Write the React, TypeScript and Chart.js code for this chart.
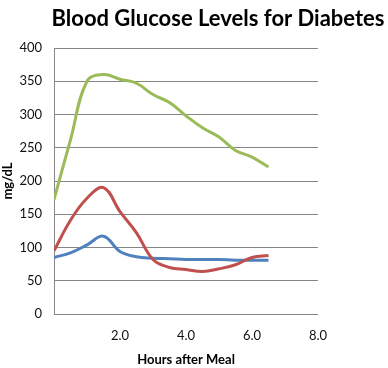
import React, { useEffect, useRef } from "react";
import { Chart, registerables } from "chart.js";

Chart.register(...registerables);

const chartTitle = "Blood Glucose Levels for Diabetes";
const xTitle = "Hours after Meal";
const yTitle = "mg/dL";

const hours = [0, 0.5, 1, 1.5, 2, 2.5, 3, 3.5, 4, 4.5, 5, 5.5, 6, 6.5];
const greenValues = [172, 262, 350, 360, 353, 347, 330, 318, 298, 280, 266, 246, 236, 221];
const redValues = [95, 141, 174, 190, 154, 122, 82, 70, 67, 64, 68, 74, 85, 88];
const blueValues = [85, 92, 104, 117, 94, 86, 84, 83, 82, 82, 82, 81, 81, 81];

const xTicks = [0, 2, 4, 6, 8];
const yMin = 0;
const yMax = 400;
const yStep = 50;

const toPoints = (vals: number[]) => hours.map((h, i) => ({ x: h, y: vals[i] }));

export default function App() {
  const ref = useRef<HTMLCanvasElement | null>(null);

  useEffect(() => {
    if (!ref.current) return;
    const titlePlugin = {
      id: "customTitle",
      beforeDraw(chart: any) {
        const ctx = chart.ctx;
        ctx.save();
        ctx.fillStyle = "#ffffff";
        ctx.fillRect(0, 0, chart.width, chart.height);
        ctx.restore();
      },
      afterDraw(chart: any) {
        const ctx = chart.ctx;
        ctx.save();
        ctx.font = "bold 22px Lato";
        ctx.fillStyle = "#000000";
        ctx.textAlign = "center";
        ctx.textBaseline = "alphabetic";
        ctx.fillText(chartTitle, 218, 26);
        ctx.restore();
      },
    };
    const chart = new Chart(ref.current, {
      type: "line",
      data: {
        datasets: [
          {
            label: "High",
            data: toPoints(greenValues),
            borderColor: "#9BBB59",
            borderWidth: 3,
            pointRadius: 0,
            tension: 0.4,
            fill: false,
          },
          {
            label: "Diabetic",
            data: toPoints(redValues),
            borderColor: "#C0504D",
            borderWidth: 3,
            pointRadius: 0,
            tension: 0.4,
            fill: false,
          },
          {
            label: "Normal",
            data: toPoints(blueValues),
            borderColor: "#4F81BD",
            borderWidth: 3,
            pointRadius: 0,
            tension: 0.4,
            fill: false,
          },
        ],
      },
      options: {
        responsive: false,
        animation: false,
        layout: { padding: { top: 48, right: 70, left: 0, bottom: 0 } },
        plugins: {
          legend: { display: false },
          title: { display: false },
          tooltip: { enabled: false },
        },
        scales: {
          x: {
            type: "linear",
            min: 0,
            max: 8,
            afterBuildTicks: (scale: any) => {
              scale.ticks = xTicks.map((v) => ({ value: v }));
            },
            afterFit: (scale: any) => {
              scale.height = 54;
            },
            ticks: {
              padding: 14,
              color: "#111",
              font: { family: "Lato", size: 13 },
              maxRotation: 0,
              callback: (v: any) => (Number(v) === 0 ? "" : Number(v).toFixed(1)),
            },
            grid: { display: false, drawTicks: false },
            border: { display: false },
            title: {
              display: true,
              text: xTitle,
              color: "#000",
              font: { family: "Lato", size: 13, weight: "bold" },
              padding: { top: 0, bottom: 0 },
            },
          },
          y: {
            min: yMin,
            max: yMax,
            ticks: {
              stepSize: yStep,
              padding: 12,
              color: "#111",
              font: { family: "Lato", size: 13 },
            },
            afterFit: (scale: any) => {
              scale.width = 54;
            },
            grid: { color: "#868686", lineWidth: 1, drawTicks: false },
            border: { display: true, color: "#868686", width: 1 },
            title: {
              display: true,
              text: yTitle,
              color: "#000",
              font: { family: "Lato", size: 13, weight: "bold" },
              padding: { top: 0, bottom: 0 },
            },
          },
        },
      },
      plugins: [titlePlugin],
    });
    return () => chart.destroy();
  }, []);

  return (
    <div style={{ position: "absolute", left: 0, top: 0, width: 388, height: 368 }}>
      <canvas ref={ref} width={388} height={368} style={{ width: 388, height: 368 }} />
    </div>
  );
}
